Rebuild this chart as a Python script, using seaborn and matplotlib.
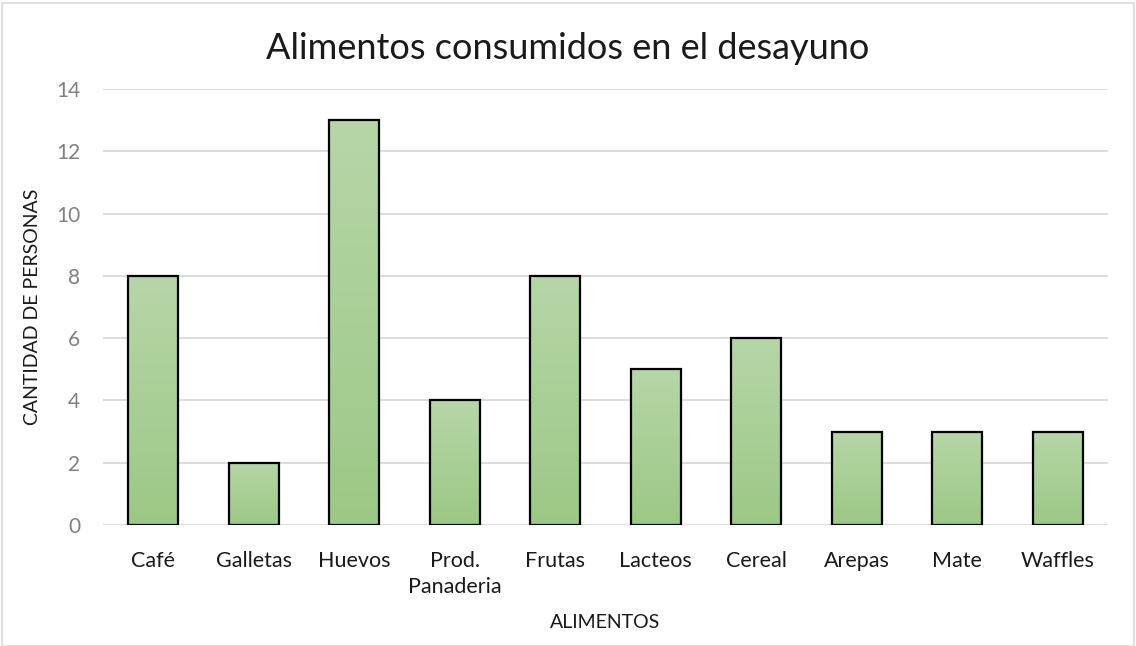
import numpy as np
import pandas as pd
import matplotlib
matplotlib.use("Agg")
import matplotlib.pyplot as plt
import seaborn as sns
from matplotlib.colors import LinearSegmentedColormap
from matplotlib.patches import Rectangle

# Breakfast food survey
alimentos = ["Café", "Galletas", "Huevos", "Prod.\nPanaderia", "Frutas",
             "Lacteos", "Cereal", "Arepas", "Mate", "Waffles"]
personas = [8, 2, 13, 4, 8, 5, 6, 3, 3, 3]
y_ticks = [0, 2, 4, 6, 8, 10, 12, 14]

df = pd.DataFrame({"Alimento": alimentos, "Personas": personas})

sns.set_theme(style="white")
plt.rcParams["font.family"] = ["Lato", "DejaVu Sans"]

fig = plt.figure(figsize=(11.36, 6.46), dpi=100)
ax = fig.add_axes([0.0907, 0.1873, 0.8847, 0.6749])

sns.barplot(data=df, x="Alimento", y="Personas", ax=ax, width=0.5,
            color="#a8cf96", edgecolor="black", linewidth=1.6, zorder=3)

# vertical gradient fill inside each bar (light top, darker bottom)
grad_cmap = LinearSegmentedColormap.from_list("verde", ["#9cc885", "#b6d6a8"])
grad = np.linspace(0, 1, 256).reshape(-1, 1)
for patch in ax.patches:
    x0, y0 = patch.get_x(), patch.get_y()
    w, h = patch.get_width(), patch.get_height()
    im = ax.imshow(grad, cmap=grad_cmap, origin="lower", aspect="auto",
                   extent=[x0, x0 + w, y0, y0 + h], zorder=2.5,
                   interpolation="bilinear")
    im.set_clip_path(patch)
    patch.set_facecolor("none")

ax.set_xlim(-0.5, len(alimentos) - 0.5)
ax.set_ylim(0, 14)
ax.set_yticks(y_ticks)
ax.yaxis.grid(True, color="#d9d9d9", linewidth=1.3, zorder=0)
ax.xaxis.grid(False)
for s in ax.spines.values():
    s.set_visible(False)
ax.tick_params(axis="y", length=0, pad=16.5, labelsize=15, labelcolor="#808080")
ax.tick_params(axis="x", length=0, pad=19, labelsize=15.5, labelcolor="#1a1a1a")
for lbl in ax.get_xticklabels():
    lbl.set_linespacing(1.35)
    lbl.set_verticalalignment("top")

ax.set_xlabel("ALIMENTOS", fontsize=14, color="#1a1a1a", labelpad=12)
ax.set_ylabel("CANTIDAD DE PERSONAS", fontsize=14, color="#1a1a1a", labelpad=11)
fig.suptitle("Alimentos consumidos en el desayuno", fontsize=26,
             color="#1a1a1a", x=0.5, y=0.95, va="top")

# light frame around the chart
fig.patches.append(Rectangle((0.002, 0.0), 0.996, 0.995, transform=fig.transFigure,
                             fill=False, edgecolor="#d9d9d9", linewidth=1.2))

fig.savefig("out.png", dpi=100)
